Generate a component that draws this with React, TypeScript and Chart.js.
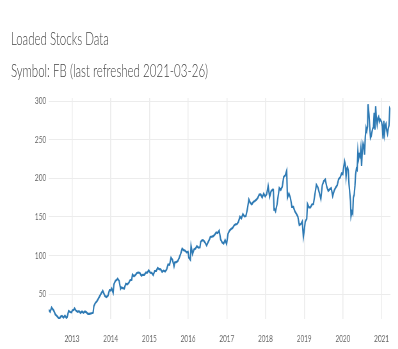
import React, { useEffect, useRef } from "react";
import { Chart, registerables } from "chart.js";

Chart.register(...registerables);

const titleText = "Loaded Stocks Data";
const subtitleText = "Symbol: FB (last refreshed 2021-03-26)";

const dates: string[] = [
  "2012-05-25","2012-06-08","2012-06-22","2012-06-29","2012-07-13","2012-07-27","2012-08-10","2012-08-24","2012-09-04","2012-09-14","2012-09-28","2012-10-12","2012-10-26","2012-11-09","2012-11-16","2012-11-30","2012-12-14","2012-12-28",
  "2013-01-04","2013-01-18","2013-01-25","2013-02-08","2013-02-22","2013-03-08","2013-03-22","2013-04-05","2013-04-19","2013-05-03","2013-05-17","2013-05-31","2013-06-14","2013-06-28","2013-07-12","2013-07-19","2013-07-26","2013-08-09","2013-08-23","2013-09-06","2013-09-20","2013-10-04","2013-10-18","2013-10-25","2013-11-08","2013-11-22","2013-12-06","2013-12-20","2013-12-31",
  "2014-01-10","2014-01-24","2014-01-31","2014-02-14","2014-02-28","2014-03-07","2014-03-21","2014-04-04","2014-04-11","2014-04-25","2014-05-09","2014-05-23","2014-06-06","2014-06-20","2014-07-03","2014-07-18","2014-07-25","2014-08-08","2014-08-22","2014-09-05","2014-09-19","2014-10-03","2014-10-17","2014-10-31","2014-11-14","2014-11-28","2014-12-12","2014-12-26",
  "2015-01-09","2015-01-23","2015-02-06","2015-02-20","2015-03-06","2015-03-20","2015-04-03","2015-04-17","2015-05-01","2015-05-15","2015-05-29","2015-06-12","2015-06-26","2015-07-10","2015-07-24","2015-08-07","2015-08-21","2015-08-28","2015-09-11","2015-09-25","2015-10-09","2015-10-23","2015-11-06","2015-11-20","2015-12-04","2015-12-18","2015-12-31",
  "2016-01-08","2016-01-22","2016-01-29","2016-02-12","2016-02-26","2016-03-11","2016-03-24","2016-04-08","2016-04-22","2016-04-29","2016-05-13","2016-05-27","2016-06-10","2016-06-24","2016-07-08","2016-07-22","2016-07-29","2016-08-12","2016-08-26","2016-09-09","2016-09-23","2016-10-07","2016-10-21","2016-11-04","2016-11-18","2016-12-02","2016-12-16","2016-12-30",
  "2017-01-13","2017-01-27","2017-02-10","2017-02-24","2017-03-10","2017-03-24","2017-04-07","2017-04-21","2017-05-05","2017-05-19","2017-06-02","2017-06-16","2017-06-30","2017-07-14","2017-07-28","2017-08-11","2017-08-25","2017-09-08","2017-09-22","2017-10-06","2017-10-20","2017-11-03","2017-11-17","2017-12-01","2017-12-15","2017-12-29",
  "2018-01-12","2018-01-26","2018-02-09","2018-02-23","2018-03-09","2018-03-16","2018-03-23","2018-03-29","2018-04-06","2018-04-20","2018-04-27","2018-05-11","2018-05-25","2018-06-08","2018-06-22","2018-07-06","2018-07-20","2018-07-27","2018-08-10","2018-08-24","2018-09-07","2018-09-21","2018-10-05","2018-10-19","2018-11-02","2018-11-16","2018-11-30","2018-12-14","2018-12-24","2018-12-31",
  "2019-01-11","2019-01-25","2019-02-01","2019-02-15","2019-03-01","2019-03-15","2019-03-29","2019-04-12","2019-04-26","2019-05-10","2019-05-24","2019-06-07","2019-06-21","2019-07-05","2019-07-19","2019-08-02","2019-08-16","2019-08-30","2019-09-13","2019-09-27","2019-10-11","2019-10-25","2019-11-08","2019-11-22","2019-12-06","2019-12-20","2019-12-31",
  "2020-01-03","2020-01-17","2020-01-24","2020-01-31","2020-02-07","2020-02-14","2020-02-21","2020-02-28","2020-03-06","2020-03-13","2020-03-18","2020-03-27","2020-04-03","2020-04-09","2020-04-17","2020-04-24","2020-04-30","2020-05-08","2020-05-15","2020-05-22","2020-05-29","2020-06-05","2020-06-12","2020-06-19","2020-06-26","2020-07-02","2020-07-10","2020-07-17","2020-07-24","2020-07-31","2020-08-07","2020-08-14","2020-08-21","2020-08-26","2020-09-04","2020-09-11","2020-09-18","2020-09-25","2020-10-02","2020-10-09","2020-10-16","2020-10-23","2020-10-30","2020-11-06","2020-11-13","2020-11-20","2020-11-27","2020-12-04","2020-12-11","2020-12-18","2020-12-31",
  "2021-01-08","2021-01-15","2021-01-22","2021-01-29","2021-02-05","2021-02-12","2021-02-19","2021-02-26","2021-03-05","2021-03-12","2021-03-19","2021-03-26"
];

const closes: number[] = [
  29.6,27.1,32.6,31.1,28.3,23.7,21.8,19.4,17.7,20.7,21.7,19.5,21.9,19.2,20.2,28.0,26.8,26.3,
  28.8,29.7,31.5,28.5,27.1,27.9,25.7,27.4,25.7,27.4,26.3,24.4,24.4,24.9,25.5,25.9,34.4,38.5,40.6,43.9,47.5,51.0,54.2,52.0,47.5,46.2,47.9,55.1,54.7,
  57.2,51.6,62.6,67.1,68.5,69.8,67.2,56.8,58.5,57.7,57.2,63.2,62.5,64.5,68.0,68.4,75.2,73.1,74.6,77.3,77.9,77.4,73.9,75.0,74.9,77.7,77.8,80.8,
  77.7,77.5,74.6,79.9,80.0,83.8,82.3,82.0,78.8,80.4,79.2,81.8,88.4,88.0,97.0,94.3,86.1,91.0,91.3,92.8,97.0,102.2,108.8,106.9,106.2,104.0,104.7,
  97.3,94.5,112.2,102.0,107.9,109.0,112.0,110.1,110.5,117.6,119.8,119.4,116.6,112.9,117.2,121.0,123.9,124.4,125.0,127.1,129.9,129.0,132.1,120.8,117.0,115.4,119.9,115.1,
  128.3,132.2,134.2,135.4,138.7,140.3,140.8,143.7,150.2,148.1,153.6,150.6,151.0,160.0,172.5,168.1,166.3,169.2,170.5,172.2,174.6,178.9,179.0,175.1,180.2,176.5,
  179.4,190.0,176.1,183.3,185.2,185.1,159.4,159.8,157.2,166.3,173.6,187.4,184.9,189.1,201.8,203.7,209.9,174.9,180.3,174.7,163.0,162.9,157.3,154.1,150.4,139.5,140.6,144.1,124.1,131.1,
  143.8,147.5,166.7,162.3,162.3,166.0,166.7,179.1,191.5,188.3,181.1,173.4,191.1,196.4,198.4,189.0,183.7,185.7,187.2,177.1,184.2,187.9,190.8,198.8,201.1,206.3,205.3,
  208.7,222.1,217.9,201.9,212.3,214.2,210.2,192.5,181.1,170.3,151.0,156.8,154.2,175.2,178.6,190.1,204.7,212.4,210.9,234.9,225.1,230.8,228.6,238.8,216.1,233.4,245.1,242.0,230.7,253.7,265.3,261.2,267.0,296.0,282.7,266.6,252.5,254.8,259.9,264.5,265.9,284.8,263.1,293.4,276.9,269.7,277.8,279.7,273.6,276.4,273.2,
  267.6,251.4,274.5,258.3,268.1,270.5,261.6,257.6,264.3,268.4,290.1,288.0
];

const xTickYears: number[] = [2013, 2014, 2015, 2016, 2017, 2018, 2019, 2020, 2021];
const yTickValues: number[] = [50, 100, 150, 200, 250, 300];
const yMin = 17.7;
const yMax = 304;

function toYear(d: string): number {
  const [y, m, dd] = d.split("-").map(Number);
  const start = Date.UTC(y, 0, 1);
  const end = Date.UTC(y + 1, 0, 1);
  return y + (Date.UTC(y, m - 1, dd) - start) / (end - start);
}

const SX = 0.64;
const W = 622;
const H = 349;

export default function App() {
  const ref = useRef<HTMLCanvasElement | null>(null);

  useEffect(() => {
    if (!ref.current) return;
    const points = dates.map((d, i) => ({ x: toYear(d), y: closes[i] }));
    const chart = new Chart(ref.current, {
      type: "line",
      data: {
        datasets: [
          {
            data: points,
            borderColor: "#2e7ab4",
            borderWidth: 2.2,
            pointRadius: 0,
            tension: 0,
            fill: false,
          },
        ],
      },
      options: {
        animation: false,
        responsive: false,
        maintainAspectRatio: false,
        devicePixelRatio: 1,
        layout: { padding: { left: 0, right: 8, top: 98, bottom: 0 } },
        plugins: { legend: { display: false }, tooltip: { enabled: false } },
        scales: {
          x: {
            type: "linear",
            min: points[0].x,
            max: points[points.length - 1].x,
            afterBuildTicks: (s: any) => {
              s.ticks = xTickYears.map((v) => ({ value: v }));
            },
            afterFit: (s: any) => {
              s.height = 30;
            },
            ticks: {
              callback: (v: any) => String(v),
              font: { family: "Lato", size: 10 },
              color: "#666",
              padding: 14,
              maxRotation: 0,
              autoSkip: false,
            },
            grid: { color: "#ececec", lineWidth: 1.5, drawTicks: false },
            border: { display: false },
          },
          y: {
            min: yMin,
            max: yMax,
            afterBuildTicks: (s: any) => {
              s.ticks = yTickValues.map((v) => ({ value: v }));
            },
            afterFit: (s: any) => {
              s.width = 76;
            },
            ticks: {
              callback: (v: any) => String(v),
              font: { family: "Lato", size: 10 },
              color: "#666",
              padding: 4,
            },
            grid: { color: "#ececec", lineWidth: 1, drawTicks: false },
            border: { display: false },
          },
        },
      },
    } as any);
    return () => chart.destroy();
  }, []);

  const textStyle: React.CSSProperties = {
    position: "absolute",
    left: 17,
    fontFamily: "Lato, sans-serif",
    fontWeight: 300,
    fontSize: 18,
    lineHeight: "21.6px",
    color: "#444",
    whiteSpace: "nowrap",
  };

  return (
    <div
      style={{
        position: "absolute",
        left: 0,
        top: 0,
        width: W,
        height: H,
        transform: `scaleX(${SX})`,
        transformOrigin: "0 0",
        background: "#fff",
      }}
    >
      <div style={{ ...textStyle, top: 28 }}>{titleText}</div>
      <div style={{ ...textStyle, top: 60 }}>{subtitleText}</div>
      <canvas ref={ref} width={W} height={H} style={{ display: "block", width: W, height: H }} />
    </div>
  );
}
